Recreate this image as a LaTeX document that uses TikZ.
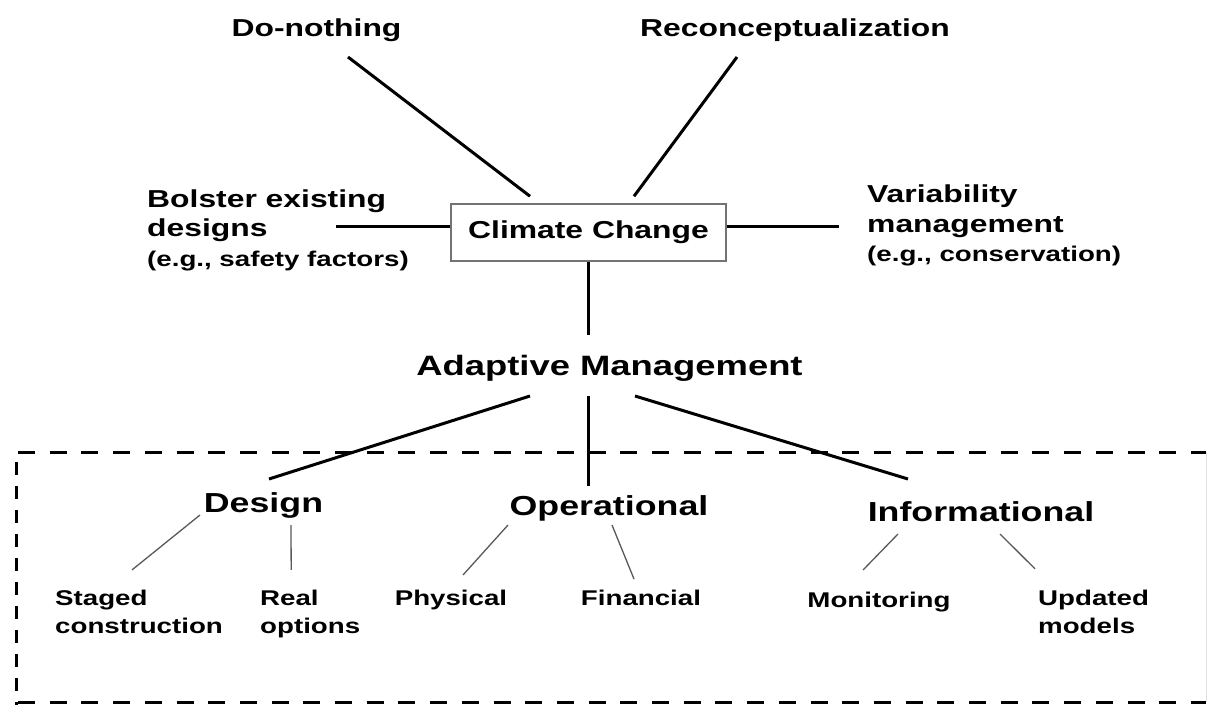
\documentclass[tikz,border=0pt]{standalone}
\usepackage{fontspec}
\setmainfont{Liberation Sans}[FakeStretch=1.3]
\usetikzlibrary{calc}
\begin{document}
\begin{tikzpicture}[x=1pt,y=-1pt,
  every node/.style={inner sep=0pt, text=black},
  topfont/.style={font=\fontsize{24.5}{29.5}\selectfont\bfseries},
  amfont/.style={font=\fontsize{28}{33}\selectfont\bfseries},
  catfont/.style={font=\fontsize{27.5}{33}\selectfont\bfseries},
  subfont/.style={font=\fontsize{21.3}{28}\selectfont\bfseries, align=left},
  mainline/.style={line width=3pt, black},
  subline/.style={line width=1.3pt, black!65},
  ccbox/.style={draw=black!55, line width=1.5pt, minimum width=275pt, minimum height=57pt},
  hdash/.style={line width=3pt, dash pattern=on 17pt off 14.7pt},
  vdash/.style={line width=3pt, dash pattern=on 13pt off 11pt}
]
\useasboundingbox (0,0) rectangle (1208,705);
\fill[white] (0,0) rectangle (1208,705);

% dashed frame
\draw[hdash] (18,452) -- (1206,452);
\draw[hdash] (18,702.5) -- (1206,702.5);
\draw[vdash] (16,462) -- (16,705);
\draw[line width=0.8pt, black!12] (1206,452) -- (1206,702);

% nodes
\node[topfont, anchor=base] (dn) at (316.5,36) {Do-nothing};
\node[topfont, anchor=base] (rc) at (795,36) {Reconceptualization};
\node[topfont, ccbox] (cc) at (588.5,232.5) {Climate Change};
\node[topfont, anchor=base west, align=left] (bol) at (147,266)
  {Bolster existing\\designs\\{\fontsize{21.3}{29.5}\selectfont (e.g., safety factors)}};
\node[topfont, anchor=base west, align=left] (var) at (867,261.7)
  {Variability\\management\\{\fontsize{21.3}{29.5}\selectfont (e.g., conservation)}};
\node[amfont, anchor=base] (am) at (609.5,375) {Adaptive Management};
\node[catfont, anchor=base] (des) at (263.5,512.7) {Design};
\node[catfont, anchor=base] (op) at (609,515) {Operational};
\node[catfont, anchor=base] (inf) at (981,521) {Informational};
\node[subfont, anchor=base west] (stg) at (55,633) {Staged\\construction};
\node[subfont, anchor=base west] (real) at (260,633) {Real\\options};
\node[subfont, anchor=base] (phy) at (451,605) {Physical};
\node[subfont, anchor=base] (fin) at (641,605) {Financial};
\node[subfont, anchor=base] (mon) at (879,607) {Monitoring};
\node[subfont, anchor=base west] (upd) at (1038,633) {Updated\\models};

% main connectors
\draw[mainline] ($(dn.base)+(31.5,21)$) -- ($(cc.north)+(-58.5,-7)$);
\draw[mainline] ($(rc.base)+(-58,21)$) -- ($(cc.north)+(45.5,-7)$);
\draw[mainline] ($(cc.west)+(0,-6)$) -- ++(-114,0);
\draw[mainline] ($(cc.east)+(0,-6)$) -- ++(112,0);
\draw[mainline] (cc.south) -- ($(am.base)+(-21,-40)$);
\draw[mainline] ($(am.base)+(-79.5,21)$) -- ($(des.base)+(5.5,-33.7)$);
\draw[mainline] ($(am.base)+(-21.5,21)$) -- ($(op.base)+(-21,-29)$);
\draw[mainline] ($(am.base)+(25.5,21)$) -- ($(inf.base)+(-73,-42)$);

% sub connectors
\draw[subline] ($(des.base)+(-63.5,2.3)$) -- ($(stg.north)+(-7,-19.5)$);
\draw[subline] ($(des.base)+(27.5,12.3)$) -- ($(real.north)+(-19,-19.5)$);
\draw[subline] ($(op.base)+(-101,10)$) -- ($(phy.base)+(12,-30)$);
\draw[subline] ($(op.base)+(3,10)$) -- ($(fin.base)+(-7,-26)$);
\draw[subline] ($(inf.base)+(-83,13)$) -- ($(mon.base)+(-16,-37)$);
\draw[subline] ($(inf.base)+(19,13)$) -- ($(upd.north)+(-58.5,-20.5)$);
\end{tikzpicture}
\end{document}
